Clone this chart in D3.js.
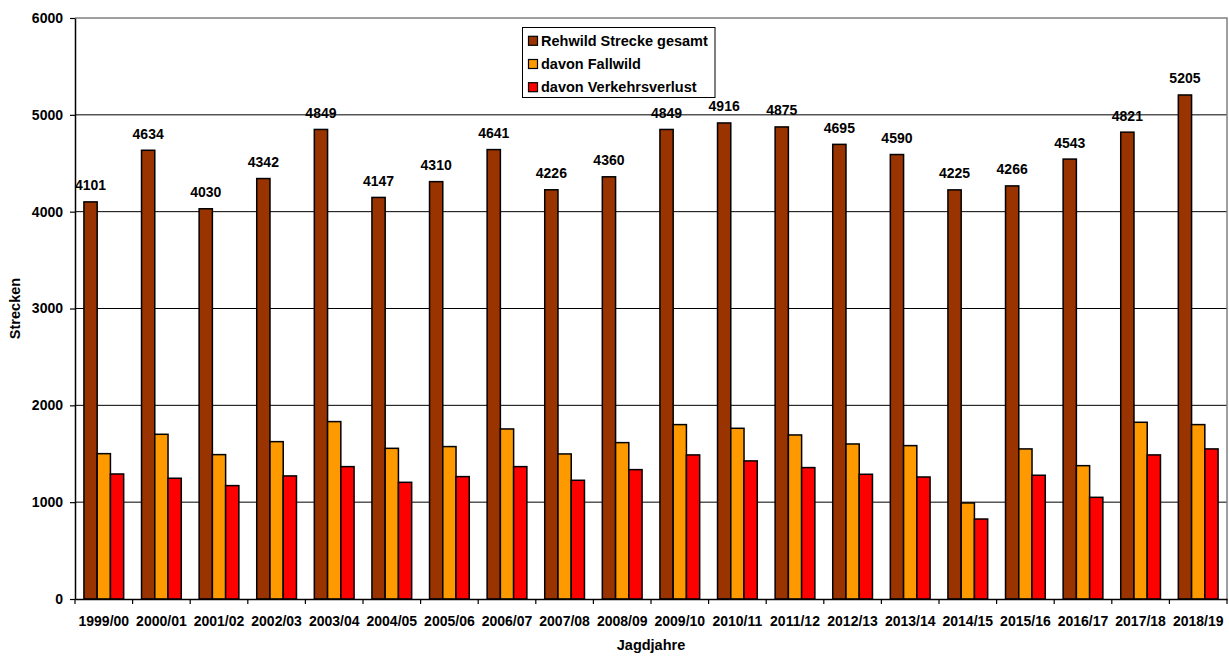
<!DOCTYPE html>
<html>
<head>
<meta charset="utf-8">
<script src="https://cdn.jsdelivr.net/npm/d3@7"></script>
<style>
  body { margin: 0; background: #fff; }
  svg { display: block; font-family: "Liberation Sans", Arial, sans-serif; font-weight: bold; }
</style>
</head>
<body>
<svg id="chart"></svg>
<script>
let years = ["1999/00","2000/01","2001/02","2002/03","2003/04","2004/05","2005/06","2006/07","2007/08","2008/09",
             "2009/10","2010/11","2011/12","2012/13","2013/14","2014/15","2015/16","2016/17","2017/18","2018/19"];
let gesamt = [4101,4634,4030,4342,4849,4147,4310,4641,4226,4360,4849,4916,4875,4695,4590,4225,4266,4543,4821,5205];
let fallwild = [1501,1701,1491,1625,1832,1556,1574,1756,1498,1615,1801,1763,1694,1601,1584,992,1550,1377,1825,1801];
let verkehr = [1291,1247,1171,1271,1367,1205,1264,1367,1226,1336,1488,1426,1357,1288,1260,826,1278,1050,1488,1550];
let seriesNames = ["Rehwild Strecke gesamt","davon Fallwild","davon Verkehrsverlust"];
let seriesColors = ["#993300","#FF9900","#FF0000"];
let yTicks = [0,1000,2000,3000,4000,5000,6000];

let width = 1229;
let height = 657;
let margin = {top: 18, right: 2, bottom: 58, left: 75};

let INNER_HEIGHT = height - margin.bottom - margin.top;
let INNER_WIDTH = width - margin.left - margin.right;

let svg = d3.select("#chart")
            .attr("width", width)
            .attr("height", height);

let plot = svg.append("g")
              .attr("transform", `translate(${margin.left},${margin.top})`);

let x0 = d3.scaleBand().domain(years).range([0, INNER_WIDTH]).paddingInner(0.31).paddingOuter(0.155);
let x1 = d3.scaleBand().domain([0,1,2]).range([0, x0.bandwidth()]);
let y = d3.scaleLinear().domain([0, 6000]).range([INNER_HEIGHT, 0]);

// grid lines
plot.append("g")
    .selectAll("line")
    .data(yTicks.filter(t => t > 0 && t < 6000))
    .join("line")
    .attr("x1", 0)
    .attr("x2", INNER_WIDTH)
    .attr("y1", d => y(d))
    .attr("y2", d => y(d))
    .style("stroke", "#000")
    .style("stroke-width", 1);

// gray frame top + right
plot.append("path")
    .attr("d", `M0,0H${INNER_WIDTH}V${INNER_HEIGHT}`)
    .style("fill", "none")
    .style("stroke", "#808080")
    .style("stroke-width", 1.5);

let table = years.map((yr, i) => ({year: yr, values: [gesamt[i], fallwild[i], verkehr[i]]}));

let groups = plot.append("g")
    .selectAll("g")
    .data(table)
    .join("g")
    .attr("transform", d => `translate(${x0(d.year)},0)`);

groups.selectAll("rect")
    .data(d => d.values.map((v, k) => ({k: k, v: v})))
    .join("rect")
    .attr("x", d => x1(d.k))
    .attr("width", x1.bandwidth())
    .attr("y", d => y(d.v))
    .attr("height", d => INNER_HEIGHT - y(d.v))
    .style("fill", d => seriesColors[d.k])
    .style("stroke", "#000")
    .style("stroke-width", 1.5);

// value labels over the brown bars
groups.append("text")
    .attr("x", x1(0) + x1.bandwidth() / 2)
    .attr("y", d => y(d.values[0]) - 11.5)
    .style("text-anchor", "middle")
    .style("font-size", "14px")
    .style("fill", "#000")
    .text(d => d.values[0]);

// axes
let y_axis = plot.append("g")
    .call(d3.axisLeft(y).tickValues(yTicks).tickFormat(d3.format("d")).tickSize(5).tickPadding(7).tickSizeOuter(0));
let x_axis = plot.append("g")
    .attr("transform", `translate(0,${INNER_HEIGHT})`)
    .call(d3.axisBottom(x0).tickValues([]).tickSizeOuter(0));

y_axis.select(".domain").style("stroke", "#000").style("stroke-width", 1.5);
x_axis.select(".domain").style("stroke", "#000").style("stroke-width", 1.5);
y_axis.selectAll("line").style("stroke", "#000").style("stroke-width", 1.2);
y_axis.selectAll("text")
    .style("font-size", "14px")
    .style("font-family", "'Liberation Sans', Arial, sans-serif")
    .style("font-weight", "bold")
    .style("fill", "#000");

// category separators on x axis
plot.append("g")
    .selectAll("line")
    .data(d3.range(years.length + 1))
    .join("line")
    .attr("x1", i => i * x0.step())
    .attr("x2", i => i * x0.step())
    .attr("y1", INNER_HEIGHT)
    .attr("y2", INNER_HEIGHT + 5)
    .style("stroke", "#000")
    .style("stroke-width", 1.2);

plot.append("g")
    .selectAll("text")
    .data(years)
    .join("text")
    .attr("x", d => x0(d) + x0.bandwidth() / 2)
    .attr("y", INNER_HEIGHT + 27)
    .style("text-anchor", "middle")
    .style("font-size", "14px")
    .text(d => d);

//x label
svg.append("text")
    .attr("x", margin.left + INNER_WIDTH / 2)
    .attr("y", 650)
    .style("text-anchor", "middle")
    .style("font-size", "14.5px")
    .text("Jagdjahre");

//y label
svg.append("text")
    .attr("transform", `translate(20,${margin.top + INNER_HEIGHT / 2}) rotate(-90)`)
    .style("text-anchor", "middle")
    .style("font-size", "14.5px")
    .text("Strecken");

// legend
let legend = svg.append("g").attr("transform", "translate(522.5,27.5)");
legend.append("rect")
    .attr("width", 192.5)
    .attr("height", 70)
    .style("fill", "#fff")
    .style("stroke", "#000")
    .style("stroke-width", 1);

let items = legend.selectAll("g.item")
    .data(seriesNames)
    .join("g")
    .attr("class", "item")
    .attr("transform", (d, i) => `translate(6,${13.3 + i * 23.2})`);

items.append("rect")
    .attr("x", 0)
    .attr("y", -4.5)
    .attr("width", 9)
    .attr("height", 9)
    .style("fill", (d, i) => seriesColors[i])
    .style("stroke", "#000")
    .style("stroke-width", 1.2);

items.append("text")
    .attr("x", 12.5)
    .attr("y", 5)
    .style("font-size", "14.5px")
    .text(d => d);
</script>
</body>
</html>
